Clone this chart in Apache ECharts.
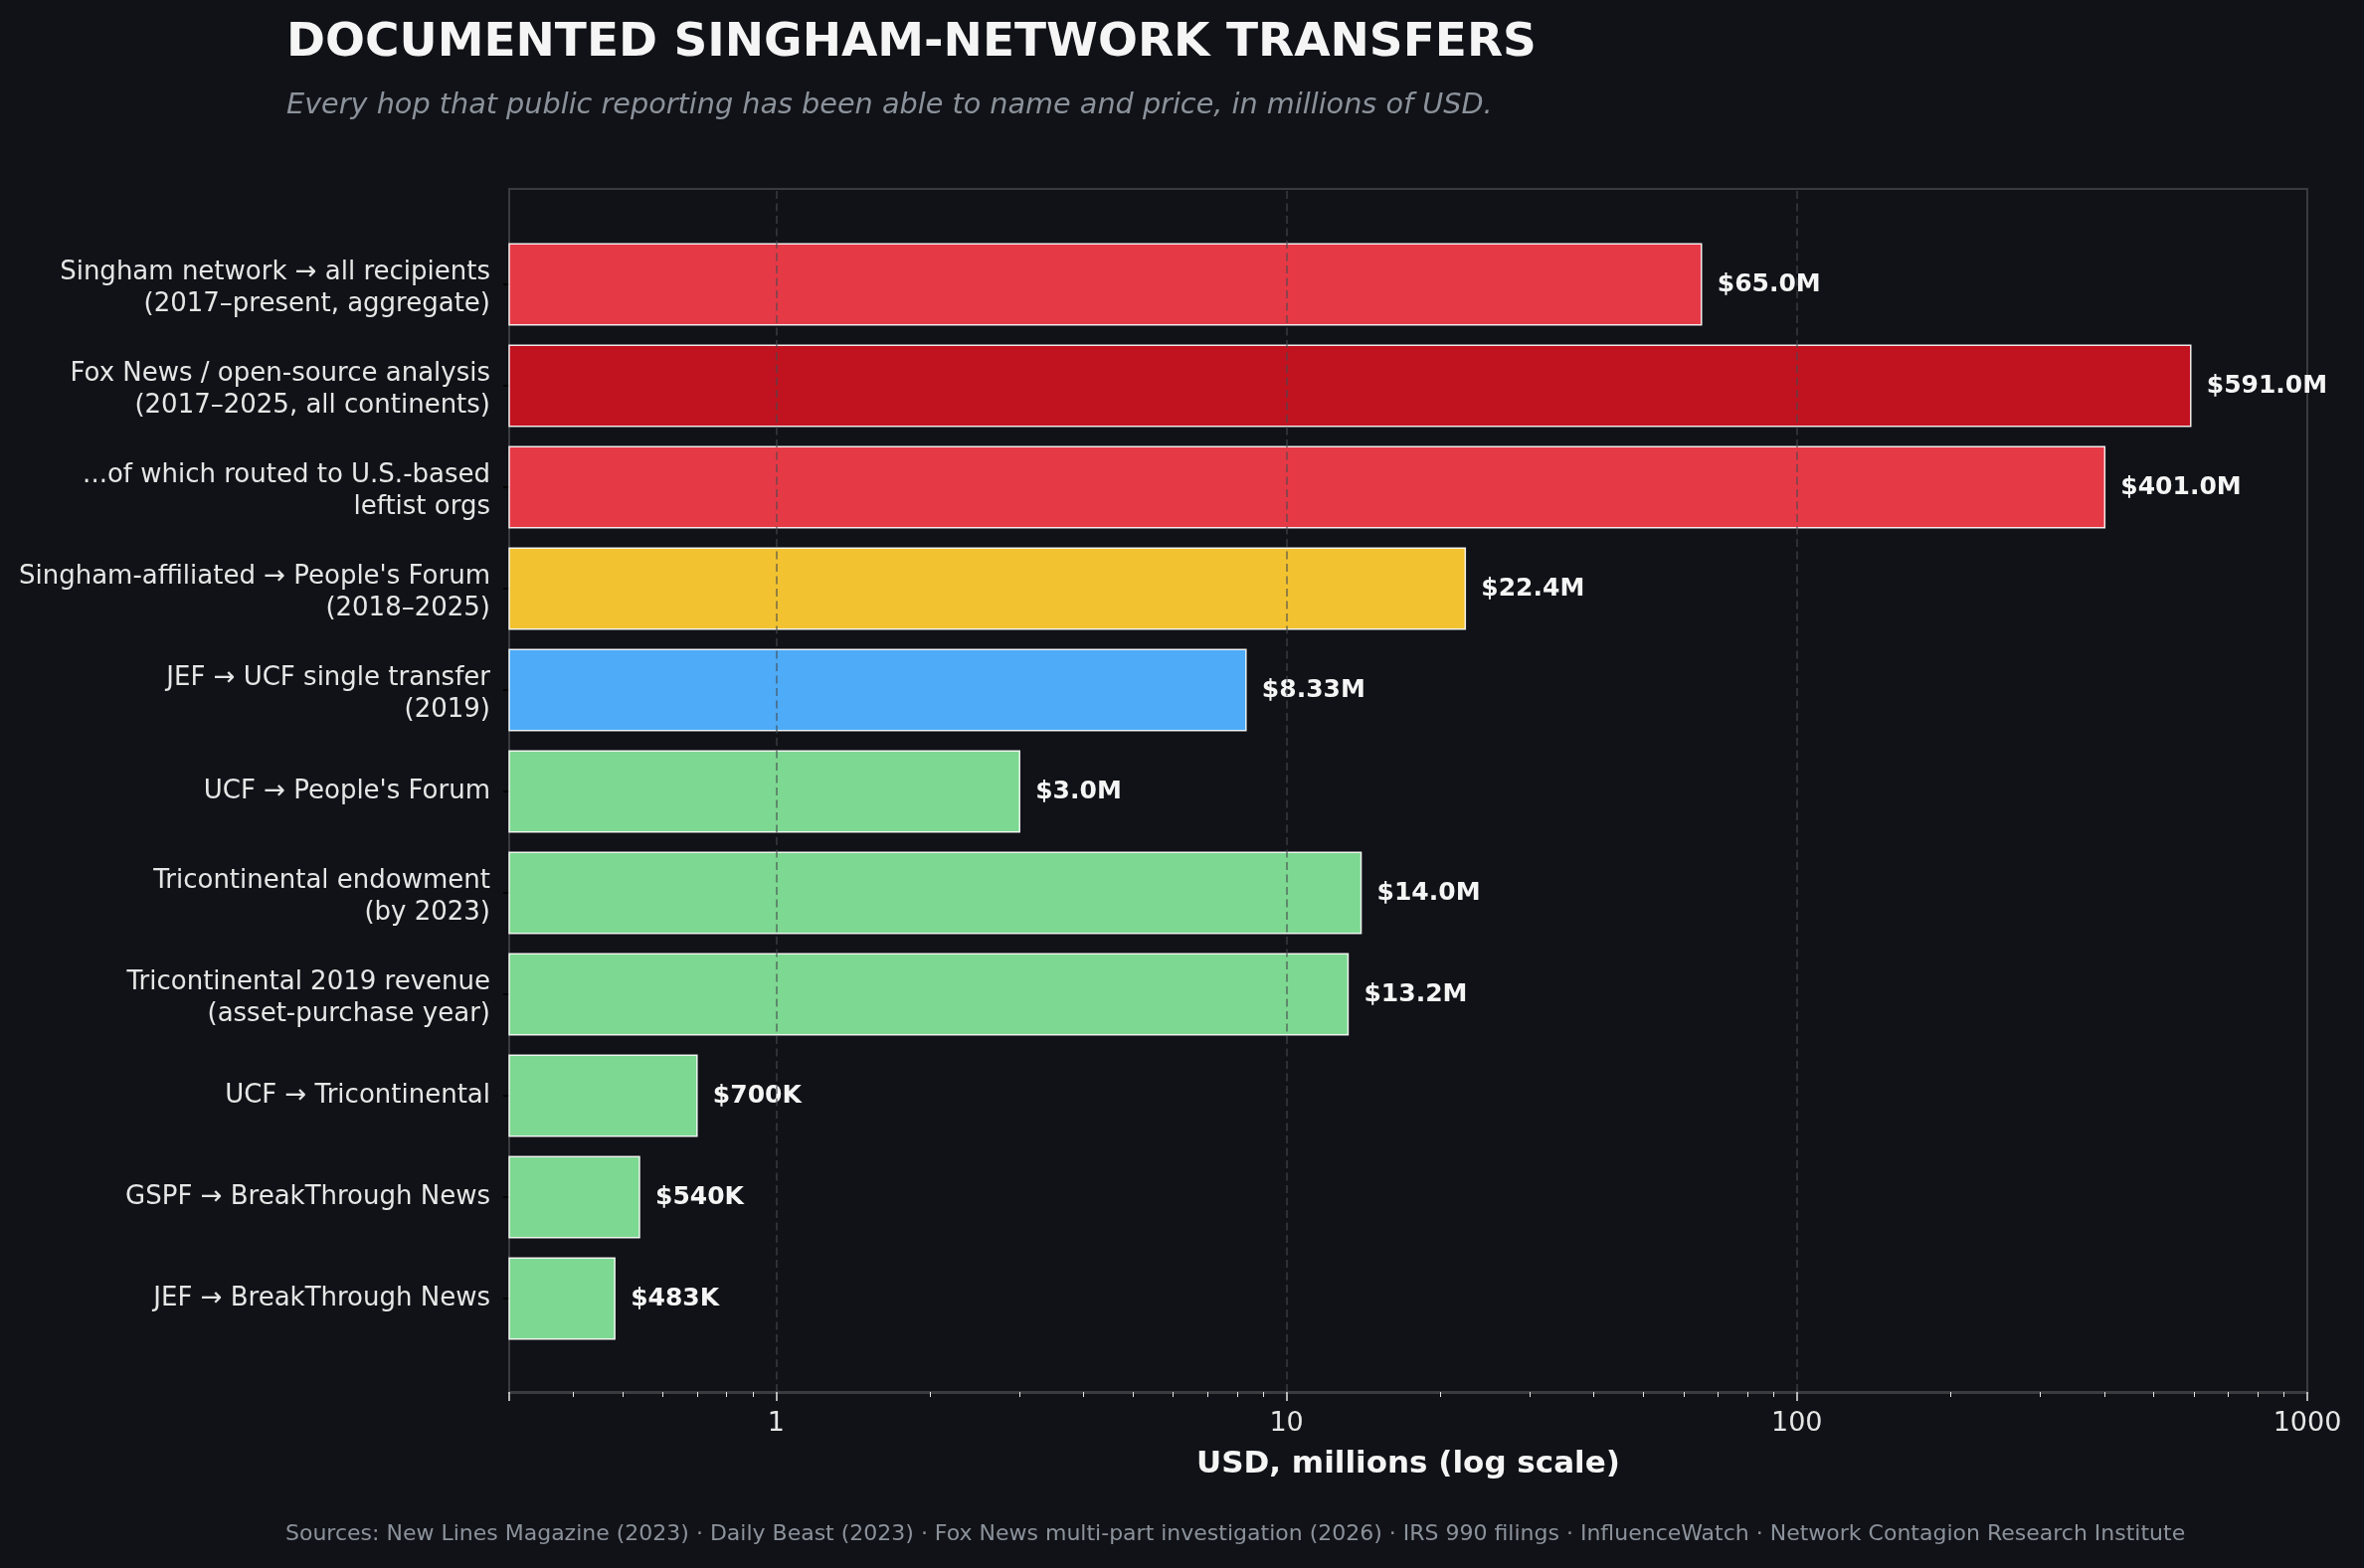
<!DOCTYPE html>
<html>
<head>
<meta charset="utf-8">
<script src="https://cdn.jsdelivr.net/npm/echarts@6/dist/echarts.min.js"></script>
<style>
  html, body { margin: 0; padding: 0; background: #111217; }
  #chart { width: 2377px; height: 1577px; }
</style>
</head>
<body>
<div id="chart"></div>
<script>
// categories, top to bottom
var categories = [
  'Singham network \u2192 all recipients\n(2017\u2013present, aggregate)',
  'Fox News / open-source analysis\n(2017\u20132025, all continents)',
  '...of which routed to U.S.-based\nleftist orgs',
  'Singham-affiliated \u2192 People\'s Forum\n(2018\u20132025)',
  'JEF \u2192 UCF single transfer\n(2019)',
  'UCF \u2192 People\'s Forum',
  'Tricontinental endowment\n(by 2023)',
  'Tricontinental 2019 revenue\n(asset-purchase year)',
  'UCF \u2192 Tricontinental',
  'GSPF \u2192 BreakThrough News',
  'JEF \u2192 BreakThrough News'
];

// USD, millions
var amounts = [65.0, 591.0, 401.0, 22.4, 8.33, 3.0, 14.0, 13.2, 0.7, 0.54, 0.483];
var amountLabels = ['$65.0M', '$591.0M', '$401.0M', '$22.4M', '$8.33M', '$3.0M', '$14.0M', '$13.2M', '$700K', '$540K', '$483K'];
var barColors = ['#e63946', '#c1121f', '#e63946', '#f2c230', '#4dabf7', '#7dd891', '#7dd891', '#7dd891', '#7dd891', '#7dd891', '#7dd891'];

var xMin = 0.3;
var xMax = 1000;
var xTicks = [1, 10, 100];

var chart = echarts.init(document.getElementById('chart'));

var font = '"DejaVu Sans", Verdana, sans-serif';

function isPow10(v) {
  var l = Math.log10(v);
  return Math.abs(l - Math.round(l)) < 1e-6;
}

// horizontal bar from the left edge of the log axis (ECharts bars on log axes start at 1)
function renderBar(params, api) {
  var idx = api.value(0);
  var v = api.value(1);
  var start = api.coord([xMin, idx]);
  var end = api.coord([v, idx]);
  var band = api.size([1, 1])[1];
  if (!isFinite(band)) band = params.coordSys.height / categories.length;
  var h = band * 0.8;
  return {
    type: 'group',
    children: [
      {
        type: 'rect',
        shape: { x: start[0], y: start[1] - h / 2, width: end[0] - start[0], height: h },
        style: { fill: barColors[params.dataIndex], stroke: 'rgba(255,255,255,0.9)', lineWidth: 1.5 }
      },
      {
        type: 'text',
        style: {
          text: amountLabels[params.dataIndex],
          x: end[0] + 16,
          y: end[1],
          verticalAlign: 'middle',
          align: 'left',
          fill: '#f5f5f5',
          font: 'bold 25px ' + font
        }
      }
    ]
  };
}

// two-line labels sit a little lower in the reference: uneven line heights
function formatCategory(c) {
  var lines = c.split('\n');
  if (lines.length < 2) return c;
  return '{a|' + lines[0] + '}\n{b|' + lines[1] + '}';
}

var option = {
  backgroundColor: '#111217',
  animation: false,
  textStyle: { fontFamily: font },
  title: {
    left: 283,
    top: 15,
    text: 'DOCUMENTED SINGHAM-NETWORK TRANSFERS',
    subtext: 'Every hop that public reporting has been able to name and price, in millions of USD.',
    itemGap: 25,
    textStyle: { color: '#f5f5f5', fontSize: 47, fontWeight: 'bold', fontFamily: font },
    subtextStyle: { color: '#8b929b', fontSize: 28.7, fontStyle: 'italic', fontFamily: font }
  },
  graphic: [{
    type: 'text',
    left: 287,
    top: 1532,
    style: {
      text: 'Sources: New Lines Magazine (2023) \u00b7 Daily Beast (2023) \u00b7 Fox News multi-part investigation (2026) \u00b7 IRS 990 filings \u00b7 InfluenceWatch \u00b7 Network Contagion Research Institute',
      fill: '#8b929b',
      font: '22px ' + font
    }
  }],
  grid: [
    // frame + x axis
    { left: 512, right: 57, top: 190, bottom: 177, show: true, borderColor: '#3a3b3f', borderWidth: 2, backgroundColor: 'transparent' },
    // bars
    { left: 512, right: 57, top: 235, bottom: 220 }
  ],
  xAxis: [
    {
      gridIndex: 0,
      type: 'log',
      logBase: 10,
      min: xMin,
      max: xMax,
      name: 'USD, millions (log scale)',
      nameLocation: 'middle',
      nameGap: 57,
      nameTextStyle: { color: '#f5f5f5', fontSize: 31, fontWeight: 'bold', fontFamily: font },
      axisLine: { show: true, lineStyle: { color: '#3a3b3f', width: 3 } },
      axisTick: { show: true, length: 9, lineStyle: { color: '#e6e6e6', width: 1.5 } },
      minorTick: { show: true, splitNumber: 9, length: 5, lineStyle: { color: '#e6e6e6', width: 1 } },
      axisLabel: {
        color: '#e6e6e6',
        fontSize: 27,
        margin: 18,
        formatter: function (v) { return isPow10(v) ? String(Math.round(v)) : ''; }
      },
      splitLine: { show: false }
    },
    {
      gridIndex: 1,
      type: 'log',
      logBase: 10,
      min: xMin,
      max: xMax,
      show: false,
      splitLine: { show: false }
    }
  ],
  yAxis: [
    { gridIndex: 0, type: 'value', min: 0, max: 1, show: false, splitLine: { show: false } },
    {
      gridIndex: 1,
      type: 'category',
      inverse: true,
      data: categories,
      axisLine: { show: false },
      axisTick: { show: true, length: 6, alignWithLabel: true, lineStyle: { color: '#000', width: 2 } },
      axisLabel: {
        color: '#e6e6e6',
        fontSize: 26,
        lineHeight: 33,
        margin: 19,
        align: 'right',
        formatter: formatCategory,
        rich: {
          a: { color: '#e6e6e6', fontSize: 26, fontFamily: font, lineHeight: 41, align: 'right' },
          b: { color: '#e6e6e6', fontSize: 26, fontFamily: font, lineHeight: 23, align: 'right' }
        }
      }
    }
  ],
  series: [
    {
      type: 'custom',
      xAxisIndex: 1,
      yAxisIndex: 1,
      z: 2,
      encode: { x: 1, y: 0 },
      data: amounts.map(function (v, i) { return [i, v]; }),
      renderItem: renderBar
    },
    {
      // dashed grid lines drawn over the bars
      type: 'line',
      xAxisIndex: 0,
      yAxisIndex: 0,
      data: [],
      z: 10,
      silent: true,
      markLine: {
        silent: true,
        symbol: ['none', 'none'],
        label: { show: false },
        lineStyle: { color: 'rgba(70,72,78,0.55)', type: [8, 4.5], width: 2 },
        data: xTicks.map(function (t) { return { xAxis: t }; })
      }
    }
  ]
};

chart.setOption(option);
</script>
</body>
</html>
